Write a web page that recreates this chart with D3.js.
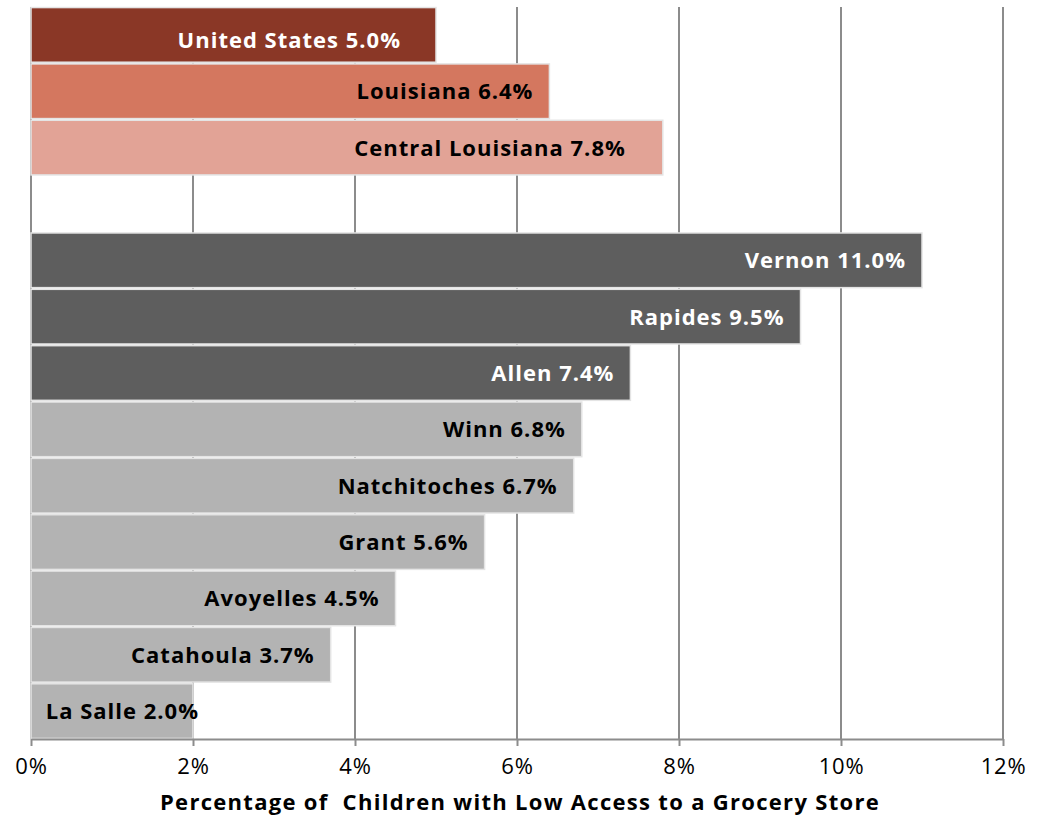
<!DOCTYPE html>
<html lang="en">
	<head>
		<meta charset="utf-8">
		<title>Children with Low Access to a Grocery Store</title>
		<script src="https://d3js.org/d3.v7.min.js"></script>
		<style>
			body { margin: 0; background: #fff; }
		</style>
	</head>
	<body>
		<script type="text/javascript">

			// Comparison group (top block)
			const areaNames = ["United States", "Louisiana", "Central Louisiana"];
			const areaValues = [5.0, 6.4, 7.8];
			const areaColors = ["#8a3726", "#d4775f", "#e2a396"];
			const areaTextColors = ["#ffffff", "#000000", "#000000"];

			// Parishes (bottom block)
			const parishNames = ["Vernon", "Rapides", "Allen", "Winn", "Natchitoches", "Grant", "Avoyelles", "Catahoula", "La Salle"];
			const parishValues = [11.0, 9.5, 7.4, 6.8, 6.7, 5.6, 4.5, 3.7, 2.0];
			const parishHighlight = [true, true, true, false, false, false, false, false, false];

			const xTicks = [0, 2, 4, 6, 8, 10, 12];
			const xTitle = "Percentage of  Children with Low Access to a Grocery Store";

			const FONT = "'Open Sans', Lato, sans-serif";

			drawChart();

			function drawChart(){
				const width = 1046;
				const height = 818;
				const marginTop = 7;
				const marginRight = 43;
				const marginBottom = 79;
				const marginLeft = 31;

				const rows = [];
				areaNames.forEach((n, i) => rows.push({
					key: n, value: areaValues[i], fill: areaColors[i], text: areaTextColors[i]
				}));
				rows.push({key: "__gap", value: null});
				parishNames.forEach((n, i) => rows.push({
					key: n, value: parishValues[i],
					fill: parishHighlight[i] ? "#5e5e5e" : "#b3b3b3",
					text: parishHighlight[i] ? "#ffffff" : "#000000"
				}));

				const x = d3.scaleLinear()
					.domain([0, 12])
					.range([marginLeft, width - marginRight]);

				const y = d3.scaleBand()
					.domain(rows.map(d => d.key))
					.range([marginTop, height - marginBottom])
					.paddingInner(0.03)
					.paddingOuter(0.01);

				const svg = d3.select("body").append("svg")
					.attr("width", width)
					.attr("height", height)
					.attr("viewBox", [0, 0, width, height])
					.style("font-family", FONT);

				// vertical gridlines
				svg.append("g")
					.selectAll("line")
					.data(xTicks)
					.join("line")
					.attr("x1", d => x(d))
					.attr("x2", d => x(d))
					.attr("y1", marginTop)
					.attr("y2", height - marginBottom)
					.attr("stroke", "#8c8c8c")
					.attr("stroke-width", 2);

				// bars
				const bars = rows.filter(d => d.value != null);
				svg.append("g")
					.selectAll("rect")
					.data(bars)
					.join("rect")
					.attr("x", x(0))
					.attr("y", d => y(d.key))
					.attr("width", d => x(d.value) - x(0))
					.attr("height", y.bandwidth())
					.attr("fill", d => d.fill)
					.attr("stroke", "#e4e4e4")
					.attr("stroke-width", 1.5);

				// labels, a few were nudged by hand in the original
				const nudge = {"United States": -19, "Central Louisiana": -21, "La Salle": 22};
				const nudgeY = {"United States": 5};
				svg.append("g")
					.selectAll("text")
					.data(bars)
					.join("text")
					.attr("x", d => x(d.value) - 16 + (nudge[d.key] || 0))
					.attr("y", d => y(d.key) + y.bandwidth() / 2 + (nudgeY[d.key] || 0))
					.attr("dy", "0.36em")
					.attr("text-anchor", "end")
					.attr("fill", d => d.text)
					.style("font-size", "22px")
					.style("font-weight", "bold")
					.style("letter-spacing", "1px")
					.text(d => `${d.key} ${d.value.toFixed(1)}%`);

				// bottom axis
				svg.append("g")
					.attr("transform", `translate(0,${height - marginBottom})`)
					.call(d3.axisBottom(x).tickValues(xTicks).tickFormat(d => d + "%").tickSize(7).tickPadding(12).tickSizeOuter(0))
					.call(g => g.select(".domain").attr("stroke", "#8c8c8c").attr("stroke-width", 2))
					.call(g => g.selectAll(".tick line").attr("stroke", "#8c8c8c").attr("stroke-width", 2))
					.call(g => g.selectAll(".tick text")
						.attr("fill", "#000")
						.style("font-size", "22px")
						.style("letter-spacing", "0.8px")
						.style("font-family", FONT));

				svg.append("text")
					.attr("x", (x(0) + x(12)) / 2 + 3)
					.attr("y", 810)
					.attr("text-anchor", "middle")
					.style("font-size", "22px")
					.style("font-weight", "bold")
					.style("letter-spacing", "1.3px")
					.style("white-space", "pre")
					.text(xTitle);
			}

		</script>
	</body>
</html>
